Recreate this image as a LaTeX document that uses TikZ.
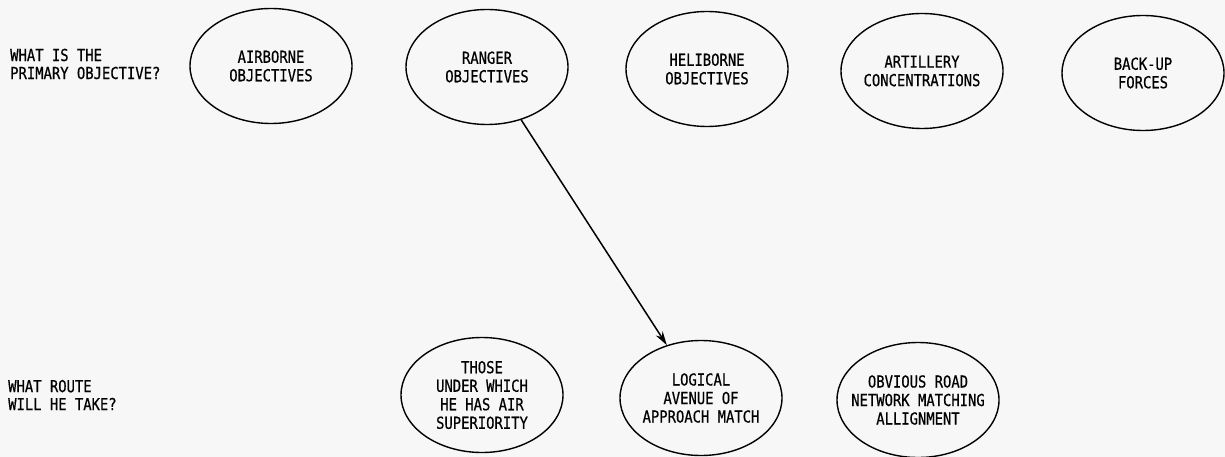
\documentclass[tikz,border=0pt]{standalone}
\usepackage{fontspec}
\newfontfamily\typefont[FakeStretch=0.84,FakeBold=0.6]{DejaVu Sans Mono}
\usetikzlibrary{shapes, arrows.meta}

\begin{document}
\begin{tikzpicture}[x=1pt, y=-1pt,
	obj/.style={draw, ellipse, line width=1.4pt, minimum width=162pt, minimum height=115pt, inner xsep=-25pt, inner ysep=0pt, align=center, font=\typefont\fontsize{16.5}{18.5}\selectfont},
	question/.style={anchor=west, align=left, inner sep=0pt, font=\typefont\fontsize{16.5}{18}\selectfont}]

	\useasboundingbox[fill=black!3] (0,0) rectangle (1225,457);

	% primary objective
	\node[question] (qobj) at (10,64) {WHAT IS THE\\PRIMARY OBJECTIVE?};
	\node[obj] (air) at (271,66) {AIRBORNE\\OBJECTIVES};
	\node[obj] (rng) at (487,67) {RANGER\\OBJECTIVES};
	\node[obj] (heli) at (707,69) {HELIBORNE\\OBJECTIVES};
	\node[obj] (art) at (922,71) {ARTILLERY\\CONCENTRATIONS};
	\node[obj] (bku) at (1143,73) {BACK-UP\\FORCES};

	% route
	\node[question] (qroute) at (8,395) {WHAT ROUTE\\WILL HE TAKE?};
	\node[obj] (airsup) at (482,395) {THOSE\\UNDER WHICH\\HE HAS AIR\\SUPERIORITY};
	\node[obj] (avenue) at (701,398) {LOGICAL\\AVENUE OF\\APPROACH MATCH};
	\node[obj] (road) at (918,400) {OBVIOUS ROAD\\NETWORK MATCHING\\ALLIGNMENT};

	\draw[-{Stealth[length=14pt,width=8pt]}, line width=1.5pt] (rng) -- (avenue);
\end{tikzpicture}
\end{document}
